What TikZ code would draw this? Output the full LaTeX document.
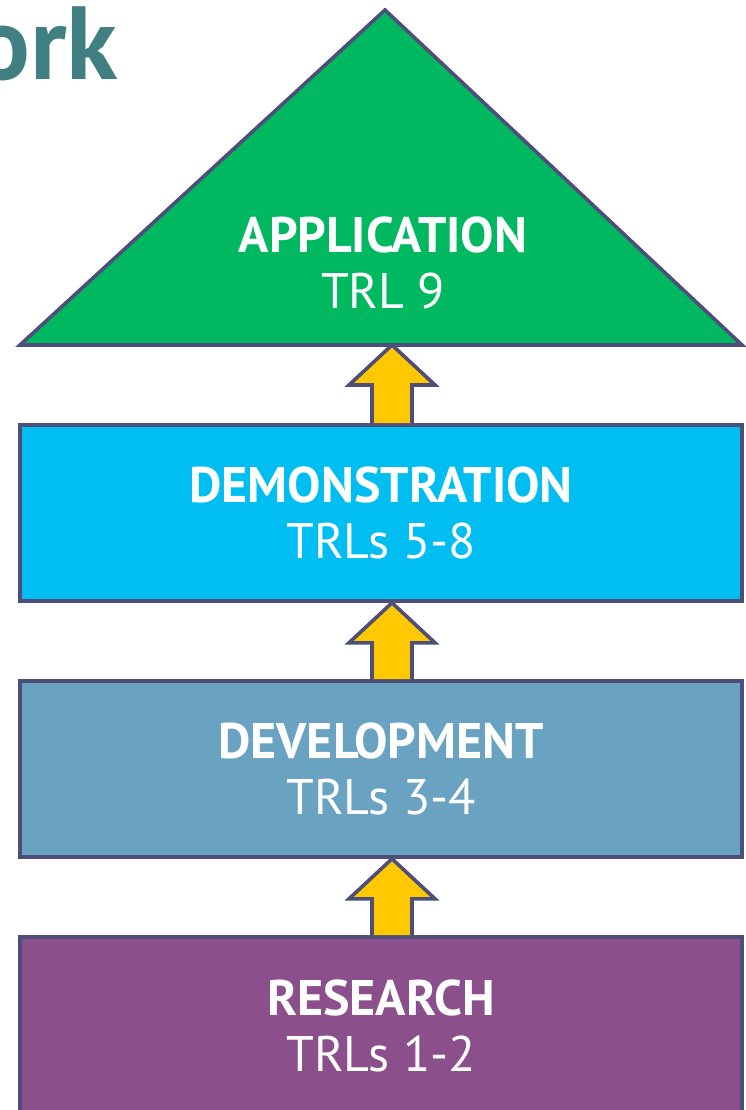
\documentclass[tikz,border=0pt]{standalone}
\usepackage{fontspec}
\setmainfont{PT Sans}
\usetikzlibrary{calc}
\definecolor{edge}{HTML}{4E4E7A}
\definecolor{appg}{HTML}{00B860}
\definecolor{democ}{HTML}{00BEF2}
\definecolor{devc}{HTML}{6AA2C2}
\definecolor{resc}{HTML}{8B508B}
\definecolor{arry}{HTML}{FFC800}
\definecolor{titlec}{HTML}{407F82}
\tikzset{
  stage/.style={draw=edge, line width=3.6pt, minimum width=722pt, minimum height=176pt,
    inner sep=0pt, align=center, text=white, font=\fontsize{50}{56}\selectfont},
  stagetext/.style={align=center, text=white, font=\fontsize{50}{56}\selectfont},
  uparrow/.style={draw=edge, fill=arry, line width=3.6pt, line join=miter},
}
\begin{document}
\begin{tikzpicture}[x=1pt,y=-1pt]
\useasboundingbox (0,0) rectangle (746,1110);
\clip (0,0) rectangle (746,1110);
\node[anchor=base east, text=titlec, font=\fontsize{104}{110}\selectfont\bfseries, inner sep=0pt] (title) at (118,80) {ork};
% triangle
\coordinate (apex) at (385,10);
\coordinate (bl) at (20,345);
\coordinate (br) at (742,345);
\draw[draw=edge, fill=appg, line width=3.6pt, line join=miter] (apex) -- (br) -- (bl) -- cycle;
\node[stagetext] (app) at (383,263) {\textbf{APPLICATION}\\TRL 9};
\node[stage, fill=democ] (demo) at (381,513) {\textbf{DEMONSTRATION}\\TRLs 5-8};
\node[stage, fill=devc] (dev) at (381,769) {\textbf{DEVELOPMENT}\\TRLs 3-4};
\node[stage, fill=resc, minimum height=178pt] (res) at (381,1026) {\textbf{RESEARCH}\\TRLs 1-2};
% arrows
\foreach \lo/\hi in {demo.north/bl, dev.north/demo.south, res.north/dev.south}{
  \path let \p1=(\lo), \p2=(\hi) in
    coordinate (b) at (392,\y1) coordinate (t) at (392,\y2);
  \draw[uparrow] ($(b)+(-20,0)$) -- ($(t)+(-20,40)$) -- ($(t)+(-43,40)$) -- (t)
     -- ($(t)+(43,40)$) -- ($(t)+(20,40)$) -- ($(b)+(20,0)$);
}
\end{tikzpicture}
\end{document}
